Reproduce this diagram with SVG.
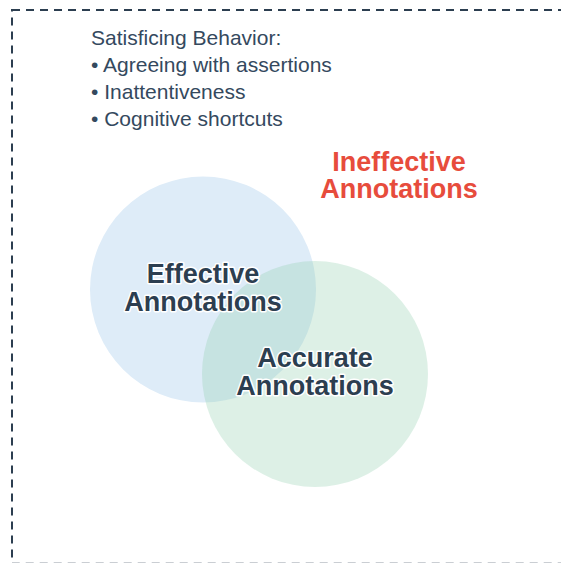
<svg xmlns="http://www.w3.org/2000/svg" width="561" height="563" viewBox="0 0 561 563">
  <style>
    .frame { fill: none; stroke: #2c3e50; stroke-width: 2; stroke-dasharray: 8 6; }
    .list { font-family: "Liberation Sans", Arial, sans-serif; font-size: 21px; fill: #34495e; }
    .label { font-family: "Liberation Sans", Arial, sans-serif; font-size: 27px; font-weight: bold; fill: #2c3e50; text-anchor: middle; stroke: #ffffff; stroke-width: 3; stroke-linejoin: round; paint-order: stroke; }
    .outside { font-family: "Liberation Sans", Arial, sans-serif; font-size: 27px; font-weight: bold; fill: #e74c3c; text-anchor: middle; }
  </style>
  <rect width="561" height="563" fill="#ffffff"/>
  <rect class="frame" x="12" y="10" width="560" height="553.7"/>
  <g id="satisficing">
    <text class="list" x="91" y="45">Satisficing Behavior:</text>
    <text class="list" x="91" y="72">• Agreeing with assertions</text>
    <text class="list" x="91" y="99">• Inattentiveness</text>
    <text class="list" x="91" y="126">• Cognitive shortcuts</text>
  </g>
  <g id="ineffective">
    <text class="outside" x="399" y="171">Ineffective</text>
    <text class="outside" x="399" y="198">Annotations</text>
  </g>
  <g id="effective">
    <circle cx="203" cy="289.5" r="113" fill="#deecf8"/>
  </g>
  <g id="accurate">
    <circle cx="315" cy="374" r="113" fill="rgb(142,205,172)" fill-opacity="0.3"/>
  </g>
  <g id="labels">
    <text class="label" x="203" y="283">Effective</text>
    <text class="label" x="203" y="311">Annotations</text>
    <text class="label" x="315" y="367">Accurate</text>
    <text class="label" x="315" y="395">Annotations</text>
  </g>
  <g id="connectors"/>
</svg>
